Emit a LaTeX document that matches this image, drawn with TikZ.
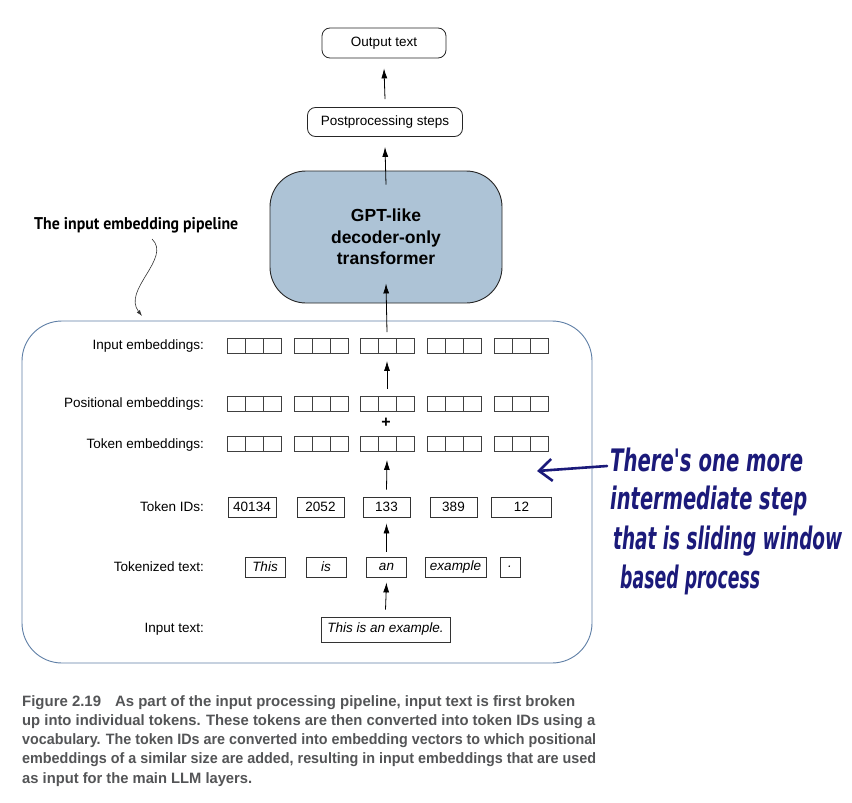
\documentclass[tikz,border=0pt]{standalone}
\usepackage{fontspec}
\usepackage{graphicx}
\setmainfont{Liberation Sans}
\newfontfamily\annfont{PT Sans}
\newfontfamily\handfont{DejaVu Sans}
\usetikzlibrary{arrows.meta}
\definecolor{gptblue}{HTML}{ADC3D6}
\definecolor{pipeblue}{HTML}{5F7FA6}
\definecolor{inkblue}{HTML}{1B1A7A}
\definecolor{capgray}{HTML}{545557}
\tikzset{
  lblfont/.style={font=\fontsize{13.5}{16}\selectfont},
  rbox/.style={draw=black!85, rounded corners=8pt, line width=0.8pt, lblfont, inner sep=0pt},
  cell/.style={draw=black!75, line width=0.9pt, minimum width=18pt, minimum height=15pt, inner sep=0pt},
  idbox/.style={draw=black!80, line width=0.8pt, minimum height=20pt, inner sep=0pt, lblfont},
  tokbox/.style={idbox, font=\fontsize{13.5}{16}\selectfont\itshape},
  lbl/.style={anchor=east, lblfont, inner sep=0pt},
  arr/.style={-{Latex[length=10pt,width=6pt]}, line width=0.8pt},
  capline/.style={anchor=base west, inner sep=0pt, text=capgray, font=\fontsize{15}{19}\selectfont\bfseries},
  handline/.style={anchor=west, inner sep=0pt, text=inkblue, font=\handfont\fontsize{31}{34}\selectfont\bfseries\itshape}
}
\begin{document}
\begin{tikzpicture}[x=1pt,y=-1pt]
\useasboundingbox (0,0) rectangle (852,803);
\fill[white] (0,0) rectangle (852,803);

% top chain
\node[rbox, minimum width=124pt, minimum height=30pt] (out) at (384,43) {Output text};
\node[rbox, minimum width=155pt, minimum height=29pt] (post) at (385,122) {Postprocessing steps};
\node[draw=black!85, line width=0.9pt, fill=gptblue, rounded corners=36pt, minimum width=232pt, minimum height=132pt,
      align=center, font=\fontsize{17.5}{21.5}\selectfont\bfseries] (gpt) at (386,237) {GPT-like\\decoder-only\\transformer};

\draw[arr] ([yshift=8pt]post.north) -- ([yshift=-10pt]out.south);
\draw[arr] ([yshift=-14pt]gpt.north) -- ([yshift=-10pt]post.south);

% pipeline container
\node[draw=pipeblue, line width=0.9pt, rounded corners=40pt, minimum width=570pt, minimum height=342pt, inner sep=0pt] (pipe) at (307,492) {};

% annotation
\node[anchor=west, inner sep=0pt, font=\annfont\fontsize{17}{20}\selectfont\bfseries] (ann) at (34,225)
  {\resizebox{204pt}{\height}{The input embedding pipeline}};
\coordinate (c1) at (152,239);
\coordinate (c2) at (142,316);
\draw[line width=0.6pt, black!80, -{Latex[length=6pt,width=4pt]}] (c1) .. controls (172,258) and (122,290) .. (c2);

% labels
\node[lbl] (l1) at (204,346) {Input embeddings:};
\node[lbl] (l2) at (204,404) {Positional embeddings:};
\node[lbl] (l3) at (204,445) {Token embeddings:};
\node[lbl] (l4) at (204,507) {Token IDs:};
\node[lbl] (l5) at (204,567) {Tokenized text:};
\node[lbl] (l6) at (204,629) {Input text:};

% embedding cells
\foreach \r/\y in {ie/346, pe/404, te/444} {
  \foreach \g/\x in {1/227,2/294,3/360,4/427,5/494} {
    \node[cell] (\r-\g-a) at (\x+9,\y) {};
    \node[cell] (\r-\g-b) at (\x+27,\y) {};
    \node[cell] (\r-\g-c) at (\x+45,\y) {};
  }
}
\node[inner sep=0pt, font=\fontsize{16}{16}\selectfont\bfseries] (plus) at (386,423) {+};

% token IDs
\node[idbox, minimum width=48pt] (id1) at (252,507) {40134};
\node[idbox, minimum width=47pt] (id2) at (320.5,507) {2052};
\node[idbox, minimum width=47pt] (id3) at (386.5,507) {133};
\node[idbox, minimum width=47pt] (id4) at (453.5,507) {389};
\node[idbox, minimum width=60pt] (id5) at (521.5,507) {12};

% tokenized text
\node[tokbox, minimum width=40pt] (t1) at (265,567) {This};
\node[tokbox, minimum width=40pt] (t2) at (326,567) {is};
\node[tokbox, minimum width=40pt] (t3) at (386.5,567) {an};
\node[tokbox, minimum width=61pt] (t4) at (455.5,567) {example};
\node[tokbox, minimum width=20pt] (t5) at (510,567) {.};

% input text
\node[tokbox, minimum width=129pt, minimum height=25pt] (inp) at (385.5,629.5) {This is an example.};

% pipeline arrows
\draw[arr] ([yshift=7pt]inp.north) -- ([yshift=-5pt]t3.south);
\draw[arr] ([yshift=5pt]t3.north) -- ([yshift=-6pt]id3.south);
\draw[arr] ([yshift=7pt]id3.north) -- ([yshift=-8pt]te-3-b.south);
\draw[arr] ([yshift=7pt]pe-3-b.north) -- ([yshift=-7pt]ie-3-b.south);
\draw[arr] ([yshift=6pt]ie-3-b.north) -- ([yshift=20pt]gpt.south);

% handwritten note
\coordinate (h1) at (607,466);
\coordinate (h2) at (537,471);
\draw[inkblue, line width=2.6pt, line cap=round, -{Straight Barb[length=13pt,width=22pt,line width=2.6pt]}] (h1) -- (h2);
\node[handline] (hn1) at (610,460) {\resizebox{193pt}{\height}{There's one more}};
\node[handline] (hn2) at (610,501) {\resizebox{197pt}{\height}{intermediate step}};
\node[handline] (hn3) at (613,541) {\resizebox{229pt}{\height}{that is sliding window}};
\node[handline] (hn4) at (620,580) {\resizebox{140pt}{\height}{based process}};

% caption
\node[capline] (cap1) at (22,706) {\resizebox{553pt}{\height}{Figure 2.19\hspace{14pt}As part of the input processing pipeline, input text is first broken}};
\node[capline] (cap2) at (22,725.25) {\resizebox{573pt}{\height}{up into individual tokens. These tokens are then converted into token IDs using a}};
\node[capline] (cap3) at (22,744.5) {\resizebox{574pt}{\height}{vocabulary. The token IDs are converted into embedding vectors to which positional}};
\node[capline] (cap4) at (22,763.75) {\resizebox{574pt}{\height}{embeddings of a similar size are added, resulting in input embeddings that are used}};
\node[capline] (cap5) at (22,783) {\resizebox{230pt}{\height}{as input for the main LLM layers.}};
\end{tikzpicture}
\end{document}
